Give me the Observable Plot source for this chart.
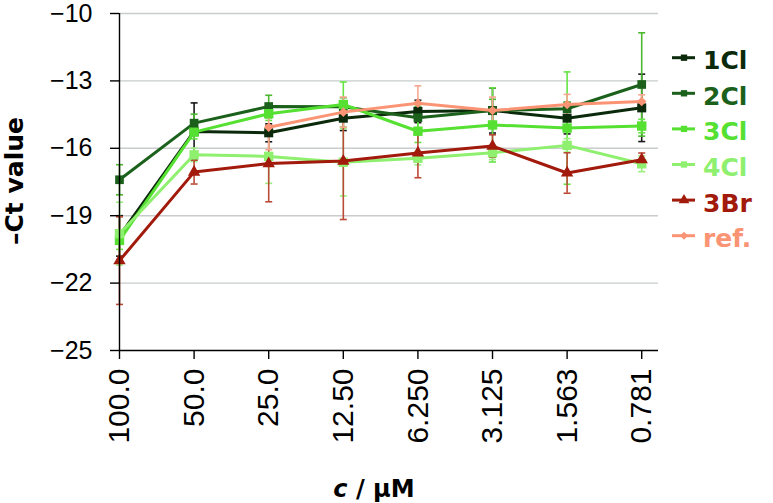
<!DOCTYPE html>
<html><head><meta charset="utf-8">
<script src="https://cdn.jsdelivr.net/npm/d3@7"></script>
<script src="https://cdn.jsdelivr.net/npm/@observablehq/plot@0.6"></script>
<style>
body{margin:0;background:#fff;}
#chart{width:773px;height:503px;}
</style></head><body><div id="chart"></div>
<script>
// ---- data ----
const categories = ["100.0","50.0","25.0","12.50","6.250","3.125","1.563","0.781"];
const seriesNames = ["1Cl","2Cl","3Cl","4Cl","3Br","ref."];
const v1Cl = [-19.9, -15.25, -15.31, -14.66, -14.36, -14.32, -14.66, -14.2];
const v2Cl = [-17.4, -14.88, -14.14, -14.15, -14.64, -14.32, -14.24, -13.16];
const v3Cl = [-20.1, -15.28, -14.46, -14.05, -15.24, -14.96, -15.1, -15.01];
const v4Cl = [-19.8, -16.29, -16.36, -16.62, -16.44, -16.2, -15.87, -16.69];
const v3Br = [-21.0, -17.06, -16.68, -16.57, -16.21, -15.9, -17.1, -16.51];
const vRef = [null, null, -15.06, -14.39, -13.99, -14.32, -14.05, -13.92];
const e1Cl = [0.9, 1.27, 0.4, 0.55, 0.5, 1.0, 0.7, 1.5];
const e2Cl = [0.67, 0.4, 0.5, 0.4, 0.5, 0.5, 0.3, 2.3];
const e3Cl = [0.4, 0.3, 0.3, 1.0, 0.5, 1.65, 2.5, 0.3];
const e4Cl = [1.4, 0.3, 1.2, 1.5, 0.3, 0.3, 0.3, 0.35];
const e3Br = [1.95, 0.53, 1.7, 2.6, 1.1, 0.5, 0.9, 0.3];
const eRef = [null, null, 1.0, 0.67, 0.77, 0.6, 0.45, 0.3];
const yTicks = [-25, -22, -19, -16, -13, -10];

const values = [v1Cl, v2Cl, v3Cl, v4Cl, v3Br, vRef];
const errors = [e1Cl, e2Cl, e3Cl, e4Cl, e3Br, eRef];
const colors = ["#0b2a0b", "#1b601b", "#55e032", "#8ef06e", "#a11a0b", "#fb9474"];
const errColors = ["#1a1a1a", "#4cb830", "#66e444", "#9af07e", "#bb4a38", "#f8a690"];
const symbols = ["square", "square", "square", "square", "triangle", "diamond2"];
const radii = [5.1, 4.9, 5.3, 5.3, 4.6, 4.3];

const rows = [];
seriesNames.forEach((s, si) => values[si].forEach((v, i) => {
  if (v != null) rows.push({series: s, si, i, v, e: errors[si][i]});
}));

const cap = {draw(ctx, size) { const h = Math.sqrt(size / Math.PI); ctx.moveTo(-h, 0); ctx.lineTo(h, 0); }};

const seriesMarks = seriesNames.flatMap((s, si) => {
  const d = rows.filter(r => r.si === si);
  return [
    Plot.line(d, {x: "i", y: "v", stroke: colors[si], strokeWidth: 3, strokeLinejoin: "round"}),
    Plot.dot(d, {x: "i", y: "v", symbol: symbols[si], r: radii[si], fill: colors[si], stroke: "none"})
  ];
});

const errMarks = seriesNames.flatMap((s, si) => {
  const d = rows.filter(r => r.si === si);
  return [
    Plot.ruleX(d, {x: "i", y1: r => r.v - r.e, y2: r => r.v + r.e, stroke: errColors[si], strokeWidth: 1.6}),
    Plot.dot(d, {x: "i", y: r => r.v - r.e, symbol: cap, r: 3.5, stroke: errColors[si], strokeWidth: 1.6}),
    Plot.dot(d, {x: "i", y: r => r.v + r.e, symbol: cap, r: 3.5, stroke: errColors[si], strokeWidth: 1.6})
  ];
});

const svg = Plot.plot({
  width: 773, height: 503,
  marginLeft: 119, marginRight: 115, marginTop: 13, marginBottom: 153,
  x: {domain: [0, 7.225], axis: null},
  y: {domain: [-25, -10], axis: null},
  style: {background: "#fff", color: "#000", fontFamily: "'Liberation Sans', Arial, sans-serif"},
  marks: [
    Plot.ruleY(yTicks.filter(t => t > -25), {stroke: "#c8cccc", strokeWidth: 1.4}),
    ...errMarks,
    ...seriesMarks,
    Plot.ruleX([0], {stroke: "#000", strokeWidth: 1.4}),
    Plot.ruleY([-25], {stroke: "#000", strokeWidth: 1.4}),
    Plot.axisY({ticks: yTicks, tickSize: 9, tickPadding: 18, fontSize: 25, label: null, strokeWidth: 1.4}),
    Plot.axisX({ticks: d3.range(categories.length), tickFormat: i => categories[i], tickRotate: -90,
      tickSize: 9, tickPadding: 9, fontSize: 30, label: null, strokeWidth: 1.4})
  ]
});
document.getElementById("chart").appendChild(svg);

// ---- labels & legend ----
const root = d3.select(svg);
const bold = "'DejaVu Sans', sans-serif";
root.append("text")
  .attr("transform", "translate(14,181) rotate(-90)")
  .attr("text-anchor", "middle").attr("dominant-baseline", "central")
  .attr("font-family", bold).attr("font-weight", "bold").attr("font-size", 25).attr("fill", "#000")
  .text("–Ct value");
const xl = root.append("text")
  .attr("x", 374).attr("y", 497).attr("text-anchor", "middle")
  .attr("font-family", bold).attr("font-weight", "bold").attr("font-size", 24).attr("fill", "#000");
xl.append("tspan").attr("font-style", "italic").text("c");
xl.append("tspan").text(" / μM");

const legendSymbols = {square: d3.symbolSquare, triangle: d3.symbolTriangle, diamond2: d3.symbolDiamond2};
const lg = root.append("g");
seriesNames.forEach((s, si) => {
  const y = 57.7 + si * 35.6;
  const g = lg.append("g").attr("transform", `translate(0,${y})`);
  g.append("line").attr("x1", 672).attr("x2", 695).attr("y1", 0).attr("y2", 0)
    .attr("stroke", colors[si]).attr("stroke-width", 3);
  g.append("path").attr("transform", "translate(684,0)")
    .attr("d", d3.symbol(legendSymbols[symbols[si]], si === 4 ? 50 : 40)())
    .attr("fill", colors[si]);
  g.append("text").attr("x", 703).attr("y", 11.5).attr("text-anchor", "start")
    .attr("font-family", bold).attr("font-weight", "bold").attr("font-size", 25)
    .attr("fill", colors[si]).text(s);
});
</script></body></html>
